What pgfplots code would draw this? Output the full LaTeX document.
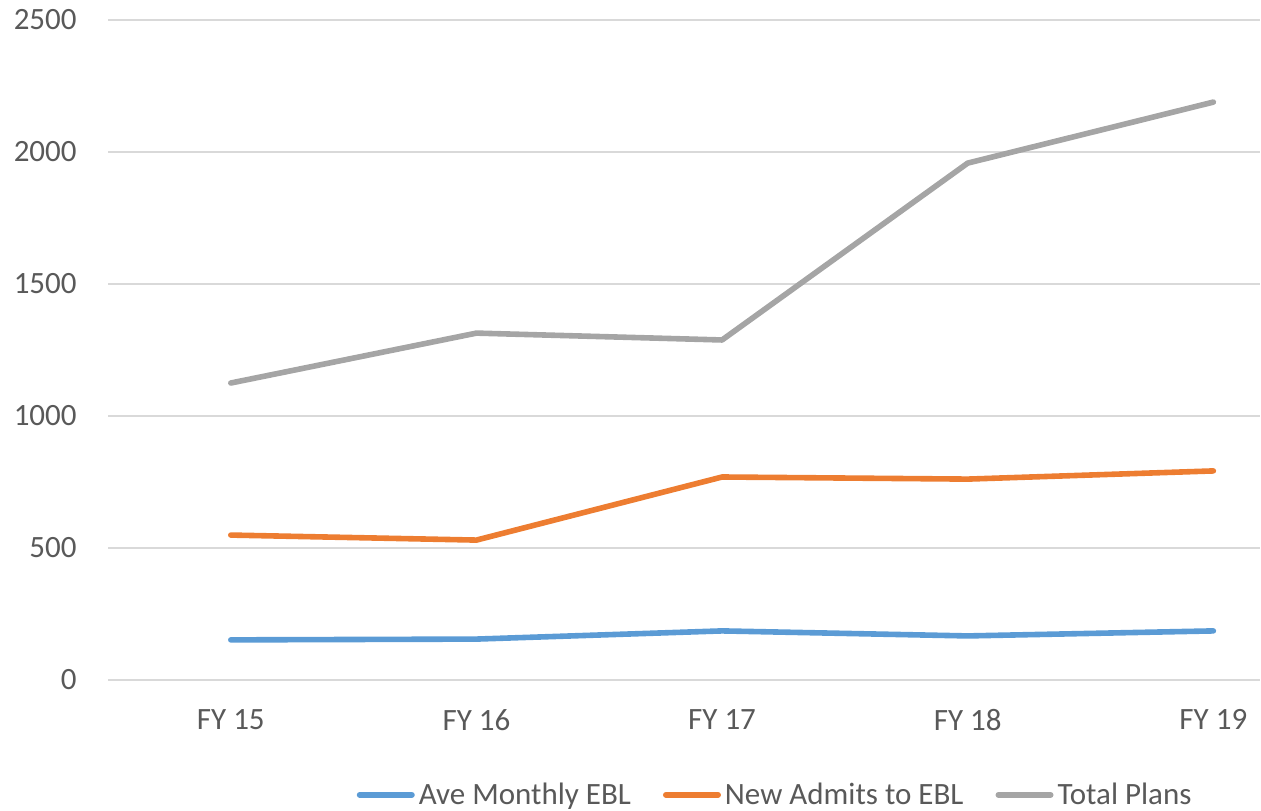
\documentclass[border=0pt]{standalone}
\usepackage{pgfplots}
\pgfplotsset{compat=1.18}
\usepackage{fontspec}
\setmainfont{Carlito}
\definecolor{cblue}{HTML}{5B9BD5}
\definecolor{corange}{HTML}{ED7D31}
\definecolor{cgray}{HTML}{A5A5A5}
\definecolor{ctext}{HTML}{595959}
\definecolor{cgrid}{HTML}{D9D9D9}
\begin{document}
\begin{tikzpicture}
\useasboundingbox (-54pt,-65pt) rectangle (576.5pt,340pt);
\begin{axis}[
  at={(0,0)}, anchor=south west,
  scale only axis, width=576pt, height=330pt,
  xmin=-0.5, xmax=4.19, ymin=0, ymax=2500,
  xtick={0,1,2,3,4},
  xticklabels={FY 15,FY 16,FY 17,FY 18,FY 19},
  ytick={0,500,1000,1500,2000,2500},
  ymajorgrids,
  grid style={color=cgrid, line width=1pt},
  axis line style={draw=none},
  major tick length=0pt,
  font=\fontsize{15.5}{18}\selectfont,
  every tick label/.append style={inner sep=0pt, color=ctext},
  /pgf/number format/assume math mode=true,
  /pgf/number format/1000 sep={},
  xticklabel style={yshift=-14.5pt},
  yticklabel style={xshift=-15.5pt},
  legend columns=3,
  legend style={at={(0.58,-0.174)}, anchor=center, draw=none, fill=none,
    font=\fontsize{15.5}{18}\selectfont, text=ctext,
    /tikz/every even column/.append style={column sep=14pt},
    inner sep=0pt},
  legend image code/.code={\draw[#1, line width=3pt, line cap=round] (0pt,0pt) -- (26pt,0pt);},
  every axis plot/.append style={line width=2.8pt, line cap=round, line join=round},
]
\addplot[cblue] coordinates {(0,152) (1,155) (2,186) (3,167) (4,186)};
\addlegendentry{Ave Monthly EBL}
\addplot[corange] coordinates {(0,549) (1,530) (2,769) (3,761) (4,792)};
\addlegendentry{New Admits to EBL}
\addplot[cgray] coordinates {(0,1125) (1,1314) (2,1288) (3,1958) (4,2189)};
\addlegendentry{Total Plans}
\end{axis}
\end{tikzpicture}
\end{document}
